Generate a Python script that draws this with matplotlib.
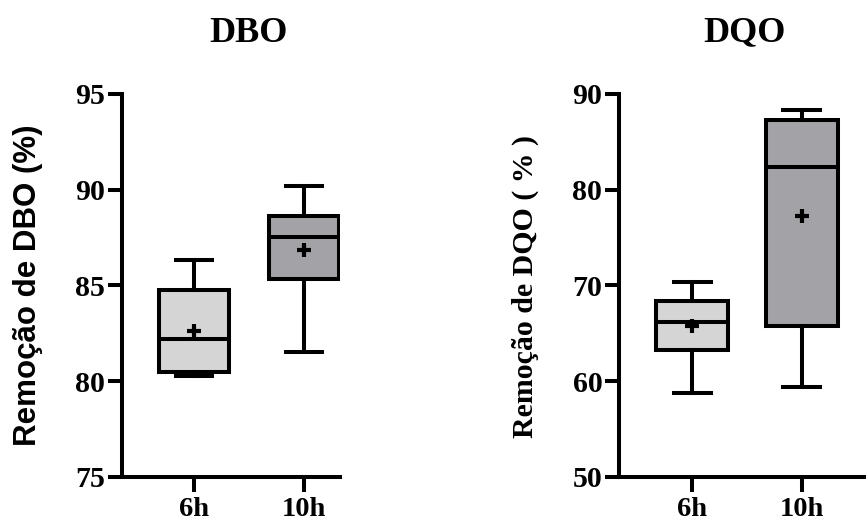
import matplotlib
matplotlib.use("Agg")
import matplotlib.pyplot as plt

# Box statistics for BOD (DBO) and COD (DQO) removal, by hydraulic retention time
groups = ["6h", "10h"]

dbo_whislo = [80.25, 81.5]
dbo_q1 = [80.45, 85.35]
dbo_med = [82.2, 87.55]
dbo_q3 = [84.75, 88.6]
dbo_whishi = [86.3, 90.2]
dbo_mean = [82.6, 86.85]

dqo_whislo = [58.7, 59.35]
dqo_q1 = [63.2, 65.7]
dqo_med = [66.15, 82.35]
dqo_q3 = [68.4, 87.3]
dqo_whishi = [70.4, 88.3]
dqo_mean = [65.8, 77.3]

dbo_ticks = [75, 80, 85, 90, 95]
dqo_ticks = [50, 60, 70, 80, 90]

fill_colors = ["#d5d5d5", "#a3a2a6"]

SERIF = "Liberation Serif"
SANS = "Liberation Sans"
LW = 2.9

W, H = 866, 523
fig = plt.figure(figsize=(W / 100, H / 100), dpi=100)


def px_axes(x0, x1, y_top, y_bot):
    return fig.add_axes([x0 / W, 1 - y_bot / H, (x1 - x0) / W, (y_bot - y_top) / H])


def draw_panel(ax, whislo, q1, med, q3, whishi, mean, ticks, xlim, width):
    stats = []
    for i, g in enumerate(groups):
        stats.append(dict(label=g, whislo=whislo[i], q1=q1[i], med=med[i],
                          q3=q3[i], whishi=whishi[i], mean=mean[i], fliers=[]))
    pos = [1, 2]
    bp = ax.bxp(stats, positions=pos, widths=width, patch_artist=True,
                showmeans=True, showfliers=False, capwidths=width * 0.52,
                boxprops=dict(linewidth=LW, edgecolor="black"),
                whiskerprops=dict(linewidth=LW, color="black"),
                capprops=dict(linewidth=LW, color="black"),
                medianprops=dict(linewidth=LW, color="black"),
                meanprops=dict(marker="+", markersize=10, markeredgewidth=3.0,
                               markeredgecolor="black"))
    for patch, c in zip(bp["boxes"], fill_colors):
        patch.set_facecolor(c)
    ax.set_xlim(*xlim)
    ax.set_ylim(ticks[0], ticks[-1])
    ax.set_yticks(ticks)
    ax.set_xticks(pos)
    ax.set_xticklabels(groups)
    for s in ("top", "right"):
        ax.spines[s].set_visible(False)
    for s in ("left", "bottom"):
        ax.spines[s].set_linewidth(LW)
    ax.tick_params(axis="y", length=10, width=LW, pad=2)
    ax.tick_params(axis="x", length=11, width=LW, pad=3.5)
    for lab in ax.get_yticklabels():
        lab.set_fontfamily(SERIF)
        lab.set_fontweight("bold")
        lab.set_fontsize(21.5)
    for lab in ax.get_xticklabels():
        lab.set_fontfamily(SERIF)
        lab.set_fontweight("bold")
        lab.set_fontsize(20.5)
    ax.patch.set_alpha(0)


ax1 = px_axes(122, 340, 94, 476.7)
draw_panel(ax1, dbo_whislo, dbo_q1, dbo_med, dbo_q3, dbo_whishi, dbo_mean,
           dbo_ticks, (0.345, 2.327), 0.64)

ax2 = px_axes(619, 866, 94, 476.7)
draw_panel(ax2, dqo_whislo, dqo_q1, dqo_med, dqo_q3, dqo_whishi, dqo_mean,
           dqo_ticks, (0.33, 2.588), 0.66)

# Panel titles
fig.text(249 / W, 1 - 33 / H, "DBO", ha="center", va="center",
         fontfamily=SERIF, fontweight="bold", fontsize=26)
fig.text(745 / W, 1 - 33 / H, "DQO", ha="center", va="center",
         fontfamily=SERIF, fontweight="bold", fontsize=26)

# Axis titles
fig.text(28 / W, 1 - 285 / H, "Remoção de DBO (%)", rotation=90,
         ha="center", va="center", fontfamily=SANS, fontweight="bold",
         fontsize=22.5)
fig.text(525 / W, 1 - 286 / H, "Remoção de DQO ( % )", rotation=90,
         ha="center", va="center", fontfamily=SERIF, fontweight="bold",
         fontsize=21.5)

fig.savefig("out.png", dpi=100)
